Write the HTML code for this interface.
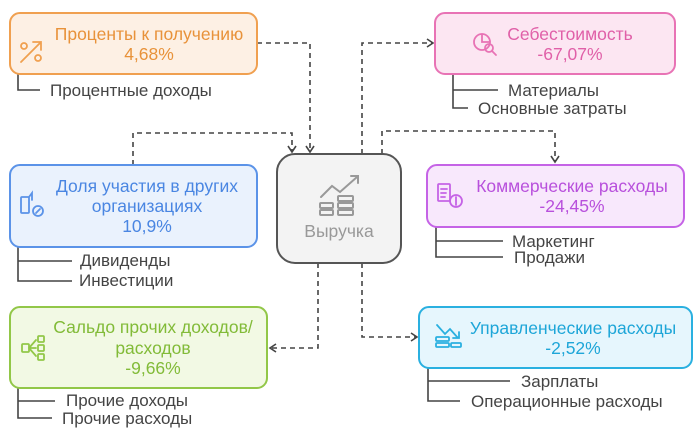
<!DOCTYPE html>
<html><head><meta charset="utf-8"><style>
html,body{margin:0;padding:0;background:#fff;}
svg{display:block;font-family:"Liberation Sans",sans-serif;}
</style></head><body>
<svg width="700" height="438" viewBox="0 0 700 438" xmlns="http://www.w3.org/2000/svg">
<defs>
<marker id="a" markerWidth="10" markerHeight="10" refX="7" refY="5" orient="auto" markerUnits="userSpaceOnUse"><path d="M1,1 L7,5 L1,9" fill="none" stroke="#444" stroke-width="1.6"/></marker>
</defs>
<g fill="none" stroke="#444" stroke-width="1.6" stroke-dasharray="5,4">
<path d="M257,43 H310 V152" marker-end="url(#a)"/>
<path d="M133,165 V133 H292 V152" marker-end="url(#a)"/>
<path d="M362,154 V43 H433" marker-end="url(#a)"/>
<path d="M382,154 V131 H555 V162" marker-end="url(#a)"/>
<path d="M318,263 V348 H270" marker-end="url(#a)"/>
<path d="M362,263 V337 H417" marker-end="url(#a)"/>
</g>
<g fill="none" stroke="#444" stroke-width="1.6">
<path d="M18,74 V90 H40"/>
<path d="M453,74 V108 H468 M453,90 H498"/>
<path d="M18,247 V281 H72 M18,261 H72"/>
<path d="M436,227 V257 H503 M436,241 H503"/>
<path d="M428,368 V401 H460 M428,381 H510"/>
<path d="M18,388 V418 H52 M18,401 H55"/>
</g>
<rect x="10" y="13" width="247" height="61" rx="10" fill="#fdf0e4" stroke="#f0a050" stroke-width="2"/>
<rect x="435" y="13" width="240" height="61" rx="10" fill="#fce6f2" stroke="#e873b5" stroke-width="2"/>
<rect x="10" y="165" width="247" height="82" rx="10" fill="#eaf2fd" stroke="#5b93e8" stroke-width="2"/>
<rect x="277" y="154" width="124" height="109" rx="18" fill="#f3f3f3" stroke="#555" stroke-width="2"/>
<rect x="427" y="165" width="257" height="62" rx="10" fill="#f8e8fc" stroke="#c563e6" stroke-width="2"/>
<rect x="419" y="307" width="273" height="61" rx="10" fill="#e6f6fd" stroke="#2ab0e0" stroke-width="2"/>
<rect x="10" y="307" width="257" height="81" rx="10" fill="#f2f9e4" stroke="#92c748" stroke-width="2"/>
<g fill="none" stroke-width="1.8" stroke-linecap="round">
<g stroke="#f0a050"><path d="M21,62 L41,42 M33,42 H41 V50"/><circle cx="24" cy="46" r="3"/><circle cx="38" cy="58" r="3"/></g>
<g stroke="#e873b5"><circle cx="482" cy="42" r="8"/><path d="M482,34 V42 H490"/><circle cx="489" cy="48" r="4"/><path d="M492,51 L496,55"/></g>
<g stroke="#5b93e8"><rect x="21" y="197" width="8" height="16" rx="1"/><path d="M29,197 L32,193 V200"/><circle cx="38" cy="211" r="5"/><path d="M36,213 L40,209"/></g>
<g stroke="#999" stroke-width="2"><path d="M321,197 L332,186 L340,192 L357,177 M351,176 H358 V183"/><rect x="320" y="203" width="13" height="5" rx="1"/><rect x="320" y="210" width="13" height="5" rx="1"/><rect x="338" y="196" width="15" height="5" rx="1"/><rect x="338" y="203" width="15" height="5" rx="1"/><rect x="338" y="210" width="15" height="5" rx="1"/></g>
<g stroke="#c563e6"><rect x="438" y="184" width="12" height="17" rx="1"/><path d="M441,189 H447 M441,193 H446 M441,197 H445"/><circle cx="456" cy="201" r="6"/><path d="M456,197 V205"/></g>
<g stroke="#2ab0e0"><path d="M437,325 L445,334 L450,329 L458,338 M453,338 H459 V332"/><rect x="436" y="337" width="13" height="4" rx="1"/><rect x="436" y="343" width="13" height="4" rx="1"/><rect x="451" y="343" width="10" height="4" rx="1"/></g>
<g stroke="#92c748"><rect x="22" y="344" width="7" height="8" rx="1"/><path d="M29,348 L36,340 M29,348 H36 M29,348 L36,356"/><rect x="38" y="336" width="6" height="6" rx="1"/><rect x="38" y="345" width="6" height="6" rx="1"/><rect x="38" y="354" width="6" height="6" rx="1"/></g>
</g>
<g font-size="17.5" text-anchor="middle">
<text x="149" y="40" fill="#e8923a">Проценты к получению</text>
<text x="149" y="60" fill="#e8923a">4,68%</text>
<text x="570" y="40" fill="#e060a8">Себестоимость</text>
<text x="570" y="60" fill="#e060a8">-67,07%</text>
<text x="147" y="192" fill="#4a86e2">Доля участия в других</text>
<text x="147" y="212" fill="#4a86e2">организациях</text>
<text x="147" y="232" fill="#4a86e2">10,9%</text>
<text x="339" y="237" fill="#999">Выручка</text>
<text x="572" y="192" fill="#b850dc">Коммерческие расходы</text>
<text x="572" y="212" fill="#b850dc">-24,45%</text>
<text x="573" y="334" fill="#1ea6d8">Управленческие расходы</text>
<text x="573" y="354" fill="#1ea6d8">-2,52%</text>
<text x="153" y="333" fill="#82bb38">Сальдо прочих доходов/</text>
<text x="153" y="354" fill="#82bb38">расходов</text>
<text x="153" y="374" fill="#82bb38">-9,66%</text>
</g>
<g font-size="17" fill="#444">
<text x="50" y="96">Процентные доходы</text>
<text x="508" y="96">Материалы</text>
<text x="478" y="114">Основные затраты</text>
<text x="80" y="266">Дивиденды</text>
<text x="79" y="286">Инвестиции</text>
<text x="512" y="247">Маркетинг</text>
<text x="514" y="263">Продажи</text>
<text x="521" y="387">Зарплаты</text>
<text x="471" y="407">Операционные расходы</text>
<text x="66" y="406">Прочие доходы</text>
<text x="62" y="424">Прочие расходы</text>
</g>
</svg>
</body></html>
